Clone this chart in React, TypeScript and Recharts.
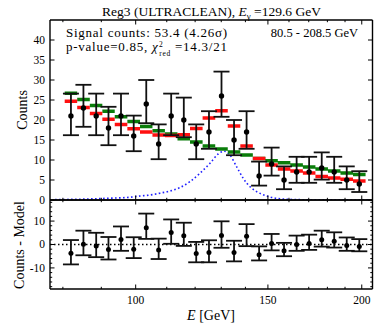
import React from 'react';
import { ComposedChart, Line, Scatter, ErrorBar, XAxis, YAxis, ReferenceLine } from 'recharts';

// ---- data ----
const energy = [82.0, 85.2, 88.6, 92.0, 95.6, 99.4, 103.3, 107.3, 111.5, 115.9, 120.4, 125.2, 130.1, 135.2, 140.5, 146.0, 151.7, 157.6, 163.8, 170.2, 176.9, 183.8, 191.0, 198.5];
const counts = [21, 23, 21, 18, 21, 16, 24, 14, 21, 20, 14, 17, 26, 15, 17, 6, 9, 5, 7, 7, 8, 7, 5, 4];
const errLow = [4.8, 4.7, 4.8, 4.3, 4.8, 3.8, 4.8, 3.8, 4.8, 4.3, 3.8, 4.2, 5.2, 3.8, 4.2, 2.4, 2.9, 2.3, 2.7, 2.7, 2.9, 2.7, 2.3, 2.0];
const errHigh = [5.6, 5.8, 5.6, 5.3, 5.6, 5.1, 6.0, 4.9, 5.6, 5.6, 4.9, 5.2, 6.1, 5.0, 5.2, 3.6, 4.1, 3.4, 3.8, 3.8, 3.9, 3.8, 3.4, 3.2];
const backgroundModel = [26.7, 25.1, 23.6, 22.2, 20.8, 19.6, 18.4, 17.3, 16.5, 15.3, 14.5, 13.5, 12.75, 12.0, 11.25, 10.4, 9.8, 9.3, 8.75, 8.25, 7.75, 7.25, 6.75, 6.4];
const fullModel = [24.7, 23.1, 21.6, 20.2, 18.9, 17.8, 17.0, 16.25, 16.1, 16.3, 17.9, 20.5, 22.3, 18.5, 13.5, 10.4, 8.75, 7.75, 7.25, 6.75, 5.9, 5.5, 5.2, 4.75];
const residual = [-3.7, 0.1, -0.6, -2.1, 2.1, -2.0, 7.2, -2.4, 5.1, 3.7, -3.8, -3.4, 3.8, -3.4, 3.5, -4.4, 0.4, -2.7, 0.0, 0.4, 2.0, 1.4, -0.4, -0.9];
const signalEnergy = [78.1, 84.3, 91.0, 98.3, 101.3, 104.5, 107.7, 111.1, 114.5, 118.1, 121.8, 125.6, 128.8, 131.1, 133.5, 136.3, 139.1, 142.0, 144.9, 149.4, 154.1, 158.9, 170.6, 205.1];
const signalCounts = [0.1, 0.2, 0.4, 0.7, 1.0, 1.25, 1.7, 2.25, 3.1, 4.6, 6.7, 9.2, 11.5, 12.2, 11.25, 8.3, 5.4, 3.3, 2.1, 1.0, 0.4, 0.2, 0.05, 0.0];

const xDomain = [76.9, 206.7];
const xMajorTicks = [100, 150, 200];
const xAllTicks = [80, 90, 100, 110, 120, 130, 140, 150, 160, 170, 180, 190, 200];
const yMainTicks = [0, 5, 10, 15, 20, 25, 30, 35, 40];
const yResMajor = [-10, 0, 10];
const yResAll = [-18, -16, -14, -12, -10, -8, -6, -4, -2, 0, 2, 4, 6, 8, 10, 12, 14, 16, 18];

const FONT = '"Liberation Serif", "Times New Roman", serif';

// ---- derived tables ----
function edgesOf(i: number) {
  const e = energy[i];
  const lo = i === 0 ? e * Math.sqrt(e / energy[1]) : Math.sqrt(e * energy[i - 1]);
  const hi = i === energy.length - 1 ? e * Math.sqrt(e / energy[i - 1]) : Math.sqrt(e * energy[i + 1]);
  return [lo, hi];
}
function stepData(vals: number[]) {
  const out: { x: number; y: number | null }[] = [];
  vals.forEach((v, i) => {
    const [lo, hi] = edgesOf(i);
    out.push({ x: lo, y: v }, { x: hi, y: v }, { x: hi, y: null });
  });
  return out;
}
const bgSteps = stepData(backgroundModel);
const fullSteps = stepData(fullModel);
const points = energy.map((e, i) => ({ x: e, y: counts[i], err: [errLow[i], errHigh[i]] }));
const resPoints = energy.map((e, i) => ({ x: e, y: residual[i], err: [errLow[i], errHigh[i]] }));
const signalData = signalEnergy.map((e, i) => ({ x: e, y: signalCounts[i] }));

const axisStyle = { stroke: '#000', strokeWidth: 1.4 };

const xTick = (dir: number, showLabel: boolean) => (p: any) => {
  const v = p.payload.value;
  const major = xMajorTicks.includes(v);
  return (
    <g>
      <line x1={p.x} x2={p.x} y1={p.y} y2={p.y + dir * (major ? 4.5 : 2.2)} stroke="#000" strokeWidth={1} />
      {showLabel && major ? (
        <text x={p.x} y={p.y + 14.5} textAnchor="middle" fontFamily={FONT} fontSize={11.5} fill="#000">{v}</text>
      ) : null}
    </g>
  );
};
const yTick = (dir: number, showLabel: boolean, majors: number[] | null) => (p: any) => {
  const v = p.payload.value;
  const major = majors ? majors.includes(v) : true;
  return (
    <g>
      <line x1={p.x} x2={p.x + dir * (major ? 4.5 : 2.2)} y1={p.y} y2={p.y} stroke="#000" strokeWidth={1} />
      {showLabel && major ? (
        <text x={p.x - 5} y={p.y + 3.8} textAnchor="end" fontFamily={FONT} fontSize={11.5} fill="#000">{v}</text>
      ) : null}
    </g>
  );
};

const dot = (r: number) => (p: any) => <circle cx={p.cx} cy={p.cy} r={r} fill="#000" />;

export default function App() {
  const commonX = {
    type: 'number' as const,
    dataKey: 'x',
    scale: 'log' as const,
    domain: xDomain,
    allowDataOverflow: true,
    ticks: xAllTicks,
    interval: 0 as const,
    height: 1,
    tickSize: 0,
    tickMargin: 0,
    tickLine: false,
    axisLine: axisStyle,
  };
  const commonY = {
    type: 'number' as const,
    dataKey: 'y',
    allowDataOverflow: true,
    interval: 0 as const,
    width: 1,
    tickSize: 0,
    tickMargin: 0,
    tickLine: false,
    axisLine: axisStyle,
  };
  return (
    <div style={{ position: 'absolute', left: 0, top: 0, width: 382, height: 334, background: '#fff' }}>
      <div style={{ position: 'absolute', left: 0, top: 0 }}>
        <ComposedChart width={382} height={210} margin={{ top: 19, right: 8.5, bottom: 9, left: 49 }}>
          <XAxis {...commonX} xAxisId="b" orientation="bottom" tick={xTick(-1, false)} />
          <XAxis {...commonX} xAxisId="t" orientation="top" tick={xTick(1, false)} />
          <YAxis {...commonY} yAxisId="l" orientation="left" domain={[0, 45]} ticks={yMainTicks} tick={yTick(1, true, null)} />
          <YAxis {...commonY} yAxisId="r" orientation="right" domain={[0, 45]} ticks={yMainTicks} tick={yTick(-1, false, null)} />
          <Line xAxisId="b" yAxisId="l" data={signalData} dataKey="y" type="monotone" stroke="#2020ff" strokeWidth={1.6}
            strokeDasharray="1.6 2.4" dot={false} isAnimationActive={false} />
          <Line xAxisId="b" yAxisId="l" data={bgSteps} dataKey="y" type="linear" stroke="#0a7d0a" strokeWidth={3.5}
            dot={false} connectNulls={false} isAnimationActive={false} />
          <Line xAxisId="b" yAxisId="l" data={fullSteps} dataKey="y" type="linear" stroke="#ff1010" strokeWidth={3.5}
            dot={false} connectNulls={false} isAnimationActive={false} />
          <Scatter xAxisId="b" yAxisId="l" data={points} dataKey="y" fill="#000" shape={dot(2.7)} isAnimationActive={false}>
            <ErrorBar dataKey="err" direction="y" width={8} stroke="#111" strokeWidth={1.8} isAnimationActive={false} />
          </Scatter>
        </ComposedChart>
      </div>
      <div style={{ position: 'absolute', left: 0, top: 0 }}>
        <ComposedChart width={382} height={334} margin={{ top: 199, right: 8.5, bottom: 44, left: 49 }}>
          <XAxis {...commonX} xAxisId="b" orientation="bottom" tick={xTick(-1, true)} />
          <XAxis {...commonX} xAxisId="t" orientation="top" tick={xTick(1, false)} />
          <YAxis {...commonY} yAxisId="l" orientation="left" domain={[-19, 19]} ticks={yResAll} tick={yTick(1, true, yResMajor)} />
          <YAxis {...commonY} yAxisId="r" orientation="right" domain={[-19, 19]} ticks={yResAll} tick={yTick(-1, false, yResMajor)} />
          <ReferenceLine xAxisId="b" yAxisId="l" y={0} stroke="#000" strokeWidth={1.3} strokeDasharray="1.5 2.5" />
          <Scatter xAxisId="b" yAxisId="l" data={resPoints} dataKey="y" fill="#000" shape={dot(2.5)} isAnimationActive={false}>
            <ErrorBar dataKey="err" direction="y" width={8} stroke="#111" strokeWidth={1.8} isAnimationActive={false} />
          </Scatter>
        </ComposedChart>
      </div>
      <svg width={382} height={334} style={{ position: 'absolute', left: 0, top: 0, pointerEvents: 'none' }}>
        <g fontFamily={FONT} fill="#000">
          <text x={211.5} y={16} textAnchor="middle" fontSize={13.5}>
            Reg3 (ULTRACLEAN), <tspan fontStyle="italic">E</tspan>
            <tspan dy={3} fontSize={9}>γ</tspan>
            <tspan dy={-3}> =129.6 GeV</tspan>
          </text>
          <text x={66} y={36.5} fontSize={13} letterSpacing={0.75}>Signal counts: 53.4 (4.26σ)</text>
          <text x={66} y={51} fontSize={13} letterSpacing={0.75}>
            p-value=0.85, <tspan fontStyle="italic">χ</tspan>
            <tspan dx={0.5} dy={-4.5} fontSize={7.5}>2</tspan>
            <tspan dx={-4.4} dy={9} fontSize={7.5}>red</tspan>
            <tspan dy={-4.5}> =14.3/21</tspan>
          </text>
          <text x={358} y={36.5} textAnchor="end" fontSize={12.5}>80.5 - 208.5 GeV</text>
          <text transform="translate(27,110) rotate(-90)" textAnchor="middle" fontSize={14}>Counts</text>
          <text transform="translate(24,245) rotate(-90)" textAnchor="middle" fontSize={14}>Counts - Model</text>
          <text x={211} y={320} textAnchor="middle" fontSize={14}>
            <tspan fontStyle="italic">E</tspan> [GeV]
          </text>
        </g>
      </svg>
    </div>
  );
}
